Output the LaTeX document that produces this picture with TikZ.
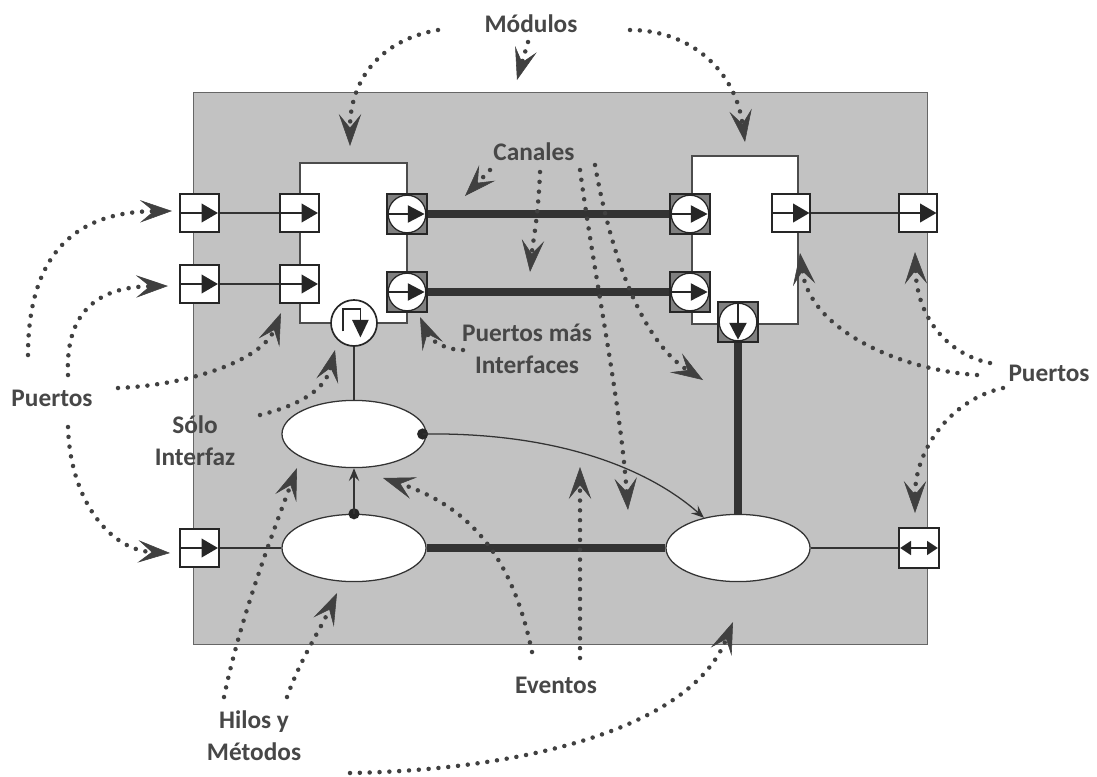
\documentclass[tikz,border=0pt]{standalone}
\usepackage{fontspec}
\setmainfont{Carlito}
\usetikzlibrary{shapes.geometric, arrows.meta}

\begin{document}
\begin{tikzpicture}[x=0.025cm, y=-0.025cm,
    lbl/.style={font=\bfseries\fontsize{18}{23}\selectfont, text=black!72, align=center, inner sep=0pt},
    sysbox/.style={draw=black!60, line width=0.8pt, fill=black!24, inner sep=0pt,
                   minimum width=18.325cm, minimum height=13.775cm},
    module/.style={draw=black!70, line width=0.8pt, fill=white, inner sep=0pt},
    port/.style={draw=black!85, line width=1.3pt, fill=white, minimum size=0.96cm, inner sep=0pt,
        path picture={\begin{scope}[shift={(path picture bounding box.center)}]
            \draw[black!85, line width=0.9pt] (-0.5cm,0cm) -- (0.1cm,0cm);
            \fill[black!85] (0.05cm,0.24cm) -- (0.46cm,0cm) -- (0.05cm,-0.24cm) -- cycle;
        \end{scope}}},
    bport/.style={draw=black!85, line width=1.3pt, fill=white, minimum size=1cm, inner sep=0pt,
        path picture={\begin{scope}[shift={(path picture bounding box.center)}]
            \draw[black!85, line width=0.9pt] (-0.3cm,0cm) -- (0.3cm,0cm);
            \fill[black!85] (-0.47cm,0cm) -- (-0.2cm,0.18cm) -- (-0.2cm,-0.18cm) -- cycle;
            \fill[black!85] (0.47cm,0cm) -- (0.2cm,0.18cm) -- (0.2cm,-0.18cm) -- cycle;
        \end{scope}}},
    iport/.style={draw=black!85, line width=1.2pt, fill=black!50, minimum size=1cm, inner sep=0pt,
        path picture={\begin{scope}[shift={(path picture bounding box.center)}]
            \filldraw[fill=white, draw=black!85, line width=0.9pt] (0cm,0cm) circle (0.47cm);
            \draw[black!85, line width=0.9pt] (-0.5cm,0cm) -- (0.1cm,0cm);
            \fill[black!85] (0.02cm,0.22cm) -- (0.44cm,0cm) -- (0.02cm,-0.22cm) -- cycle;
        \end{scope}}},
    iportS/.style={draw=black!85, line width=1.2pt, fill=black!50, minimum size=1cm, inner sep=0pt,
        path picture={\begin{scope}[shift={(path picture bounding box.center)}]
            \filldraw[fill=white, draw=black!85, line width=0.9pt] (0cm,0cm) circle (0.47cm);
            \draw[black!85, line width=0.9pt] (0cm,0.5cm) -- (0cm,-0.1cm);
            \fill[black!85] (0.22cm,-0.02cm) -- (0cm,-0.44cm) -- (-0.22cm,-0.02cm) -- cycle;
        \end{scope}}},
    thread/.style={circle, draw=black!85, line width=1.2pt, fill=white, minimum size=1.15cm, inner sep=0pt,
        path picture={\begin{scope}[shift={(path picture bounding box.center)}]
            \draw[black!85, line width=1pt] (-0.28cm,-0.21cm) -- (-0.28cm,0.35cm) -- (0.16cm,0.35cm) -- (0.16cm,0.05cm);
            \fill[black!85] (-0.05cm,0.08cm) -- (0.37cm,0.08cm) -- (0.16cm,-0.36cm) -- cycle;
        \end{scope}}},
    task/.style={ellipse, draw=black!80, line width=0.9pt, fill=white, inner sep=0pt,
                 minimum width=3.6cm, minimum height=1.68cm},
    wire/.style={draw=black!80, line width=0.9pt},
    chan/.style={draw=black!80, line width=5.5pt},
    sig/.style={draw=black!80, line width=0.9pt, -{Stealth[length=3.2mm, width=2.6mm, inset=1.2mm]}},
    note/.style={draw=black!75, line width=3.2pt, line cap=round, dash pattern=on 0pt off 7pt,
                 -{Stealth[length=8mm, width=5.6mm, inset=3.4mm, line width=0.4pt]}},
]
\useasboundingbox (0,0) rectangle (1097,776);

% system and the two modules
\node[sysbox] (sys)  at (560.5,368.5) {};
\node[module, minimum width=2.675cm, minimum height=4cm]  (modA) at (353.5,243) {};
\node[module, minimum width=2.65cm,  minimum height=4.2cm] (modB) at (745,240)  {};

% ports
\node[port]  (pinA)  at (199.5,213) {};
\node[port]  (pinB)  at (199.5,284) {};
\node[port]  (pinC)  at (199.5,548) {};
\node[port]  (inA)   at (299.5,213) {};
\node[port]  (inB)   at (299.5,284) {};
\node[port]  (outB)  at (791,213)   {};
\node[port]  (poutB) at (918,213)   {};
\node[bport] (pio)   at (919,548)   {};

% ports with interfaces
\node[iport]  (ifA1) at (407,214) {};
\node[iport]  (ifA2) at (407,292) {};
\node[iport]  (ifB1) at (690,214) {};
\node[iport]  (ifB2) at (690,292) {};
\node[iportS] (ifB3) at (738,322) {};
\node[thread] (thr)  at (354,323) {};

% threads and methods
\node[task] (th1) at (354,434) {};
\node[task] (th2) at (354,548) {};
\node[task] (th3) at (738,548) {};

% bindings
\draw[wire] (pinA) -- (inA);
\draw[wire] (pinB) -- (inB);
\draw[wire] (outB) -- (poutB);
\draw[wire] (pinC) -- (th2);
\draw[wire] (th3)  -- (pio);
\draw[wire] (thr)  -- (th1);

% channels
\draw[chan] (ifA1) -- (ifB1);
\draw[chan] (ifA2) -- (ifB2);
\draw[chan] (th2)  -- (th3);
\draw[chan] (ifB3) -- (th3);

% events
\coordinate (dA) at ([xshift=-0.1cm]th1.east);
\coordinate (dB) at (th2.north);
\fill[black!85] (dA) circle (0.14cm);
\fill[black!85] (dB) circle (0.14cm);
\draw[sig] (dB) -- (th1);
\draw[sig] (dA) .. controls (560,432) and (650,470) .. (th3);

% labels
\node[lbl] (mod)  at (531,24)   {Módulos};
\node[lbl] (can)  at (534,152)  {Canales};
\node[lbl] (pmi)  at (527,349)  {Puertos más\\Interfaces};
\node[lbl] (puL)  at (52,398)   {Puertos};
\node[lbl] (puR)  at (1049,373) {Puertos};
\node[lbl] (solo) at (195,441)  {Sólo\\Interfaz};
\node[lbl] (hil)  at (254,736)  {Hilos y\\Métodos};
\node[lbl] (eve)  at (556,685)  {Eventos};

% Modulos
\draw[note] (438,30) .. controls (380,40) and (350,80) .. (350,146);
\draw[note] (528,42) -- (517,80);
\draw[note] (630,30) .. controls (690,30) and (735,70) .. (745,142);

% Canales
\draw[note] (490,170) -- (465,196);
\draw[note] (540,172) .. controls (538,220) and (533,240) .. (530,272);
\draw[note] (580,170) .. controls (595,280) and (620,400) .. (628,510);
\draw[note] (595,165) .. controls (610,250) and (640,340) .. (703,380);

% Puertos mas Interfaces
\draw[note] (463,350) .. controls (445,350) and (430,340) .. (420,317);

% Puertos, left
\draw[note] (28,355) .. controls (28,260) and (70,212) .. (172,211);
\draw[note] (68,375) .. controls (65,310) and (100,287) .. (168,286);
\draw[note] (118,388) .. controls (190,385) and (262,360) .. (281,313);
\draw[note] (68,427) .. controls (70,500) and (110,550) .. (170,553);

% Puertos, right
\draw[note] (990,363) .. controls (950,355) and (917,320) .. (915,252);
\draw[note] (977,375) .. controls (900,370) and (810,330) .. (800,253);
\draw[note] (1003,388) .. controls (950,400) and (915,450) .. (915,513);

% Solo Interfaz
\draw[note] (260,415) .. controls (300,405) and (325,390) .. (335,350);

% Hilos y Metodos
\draw[note] (224,697) .. controls (240,620) and (270,540) .. (297,468);
\draw[note] (287,697) .. controls (300,660) and (320,630) .. (337,593);
\draw[note] (350,773) .. controls (520,770) and (690,730) .. (733,622);

% Eventos
\draw[note] (532,652) .. controls (515,570) and (480,510) .. (383,478);
\draw[note] (580,658) -- (580,467);
\end{tikzpicture}
\end{document}
